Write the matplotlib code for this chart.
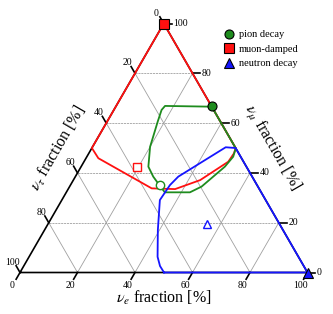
import matplotlib.pyplot as plt
import numpy as np

# couleurs
RED = '#ff1010'
GREEN = '#1e8c1e'
BLUE = '#1515ff'

# donnees (e, mu) en %, tau = 100 - e - mu
pion_e = [33.4, 17.0, 16.6, 17.6, 20.0, 23.4, 27.1, 32.4, 34.3, 43.0, 45.9, 50.0, 50.9, 50.1, 33.4]
pion_mu = [66.6, 66.9, 65.3, 60.6, 50.5, 42.5, 38.5, 33.8, 32.2, 32.2, 34.5, 42.5, 46.5, 49.9, 66.6]

muon_e = [0.0, 0.0, 4.3, 28.9, 37.2, 44.1, 50.2, 50.5, 50.0, 0.0]
muon_mu = [100.0, 50.0, 45.9, 33.8, 33.5, 37.1, 44.5, 47.9, 50.0, 100.0]

neut_e = [50.1, 100.0, 50.0, 46.4, 35.8, 34.6, 34.1, 39.4, 44.7, 47.4, 50.1]
neut_mu = [0.0, 0.0, 50.0, 50.3, 38.5, 35.1, 29.1, 17.1, 6.3, 2.6, 0.0]

# sources (pleines) et meilleurs ajustements (vides)
src_e = [33.3, 0.0, 100.0]
src_mu = [66.7, 100.0, 0.0]
fit_e = [31.1, 19.6, 55.4]
fit_mu = [35.1, 42.5, 19.5]
noms = ['pion decay', 'muon-damped', 'neutron decay']
couleurs = [GREEN, RED, BLUE]
marqueurs = ['o', 's', '^']

ticks = [0, 20, 40, 60, 80, 100]

S3 = np.sqrt(3) / 2


def cart(e, mu):
    e = np.asarray(e, dtype=float) / 100
    mu = np.asarray(mu, dtype=float) / 100
    return e + mu / 2, mu * S3


plt.rcParams['font.family'] = 'Liberation Serif'
plt.rcParams['mathtext.fontset'] = 'stix'

fig = plt.figure(figsize=(3.33, 3.14), dpi=100)
ax = fig.add_axes([0, 0, 1, 1])
ax.set_xlim(-20 / 287.5, 313 / 287.5)
ax.set_ylim(-41.5 / 287.5, 272.5 / 287.5)
ax.axis('off')

# grille
for v in [20, 40, 60, 80]:
    x, y = cart([0, 100 - v], [v, v])
    ax.plot(x, y, color='#a0a0a0', lw=0.6, dashes=(2.5, 1))
    x, y = cart([v, v], [0, 100 - v])
    ax.plot(x, y, color='#a0a0a0', lw=0.6)
    x, y = cart([100 - v, 0], [0, 100 - v])
    ax.plot(x, y, color='#a0a0a0', lw=0.6)

# bords du triangle
x, y = cart([0, 100, 0, 0], [0, 0, 100, 0])
ax.plot(x, y, color='black', lw=1.2)

# graduations
tl = 0.027
for v in ticks:
    # nu_e (bas)
    x, y = cart(v, 0)
    ax.plot([x, x - tl * 0.5], [y, y - tl * S3], color='black', lw=1.2, clip_on=False)
    ax.text(x - 0.026, y - 0.044, str(v), fontsize=7, ha='center', va='center')
    # nu_mu (droite)
    x, y = cart(100 - v, v)
    ax.plot([x, x + tl], [y, y], color='black', lw=1.2, clip_on=False)
    ax.text(x + 0.033, y, str(v), fontsize=7, ha='left', va='center')
    # nu_tau (gauche)
    x, y = cart(0, 100 - v)
    ax.plot([x, x - tl * 0.5], [y, y + tl * S3], color='black', lw=1.2, clip_on=False)
    ax.text(x - 0.026, y + 0.036, str(v), fontsize=7, ha='center', va='center')

# contours
for e, mu, c in [(muon_e, muon_mu, RED), (pion_e, pion_mu, GREEN), (neut_e, neut_mu, BLUE)]:
    x, y = cart(e, mu)
    ax.plot(x, y, color=c, lw=1.3, clip_on=False)

# points
for i in range(3):
    x, y = cart(fit_e[i], fit_mu[i])
    ax.plot(x, y, marker=marqueurs[i], ms=6, mfc='white', mec=couleurs[i], mew=1.0, ls='none')
for i in range(3):
    x, y = cart(src_e[i], src_mu[i])
    ax.plot(x, y, marker=marqueurs[i], ms=6.5, mfc=couleurs[i], mec='black', mew=0.8,
            ls='none', clip_on=False, label=noms[i])

ax.legend(loc='upper left', bbox_to_anchor=(0.656, 0.918), frameon=False, fontsize=7.5,
          handletextpad=0.35, labelspacing=0.5, borderaxespad=0, handlelength=1.2)

# titres des axes
ax.text(0.5, -0.088, r'$\nu_e$ fraction [%]', fontsize=11.5, ha='center', va='center')
ax.text(0.132, 0.433, r'$\nu_\tau$ fraction [%]', fontsize=11.5, ha='center', va='center', rotation=60)
ax.text(0.877, 0.433, r'$\nu_\mu$ fraction [%]', fontsize=11.5, ha='center', va='center', rotation=-60)

fig.savefig('out.png', dpi=100)
